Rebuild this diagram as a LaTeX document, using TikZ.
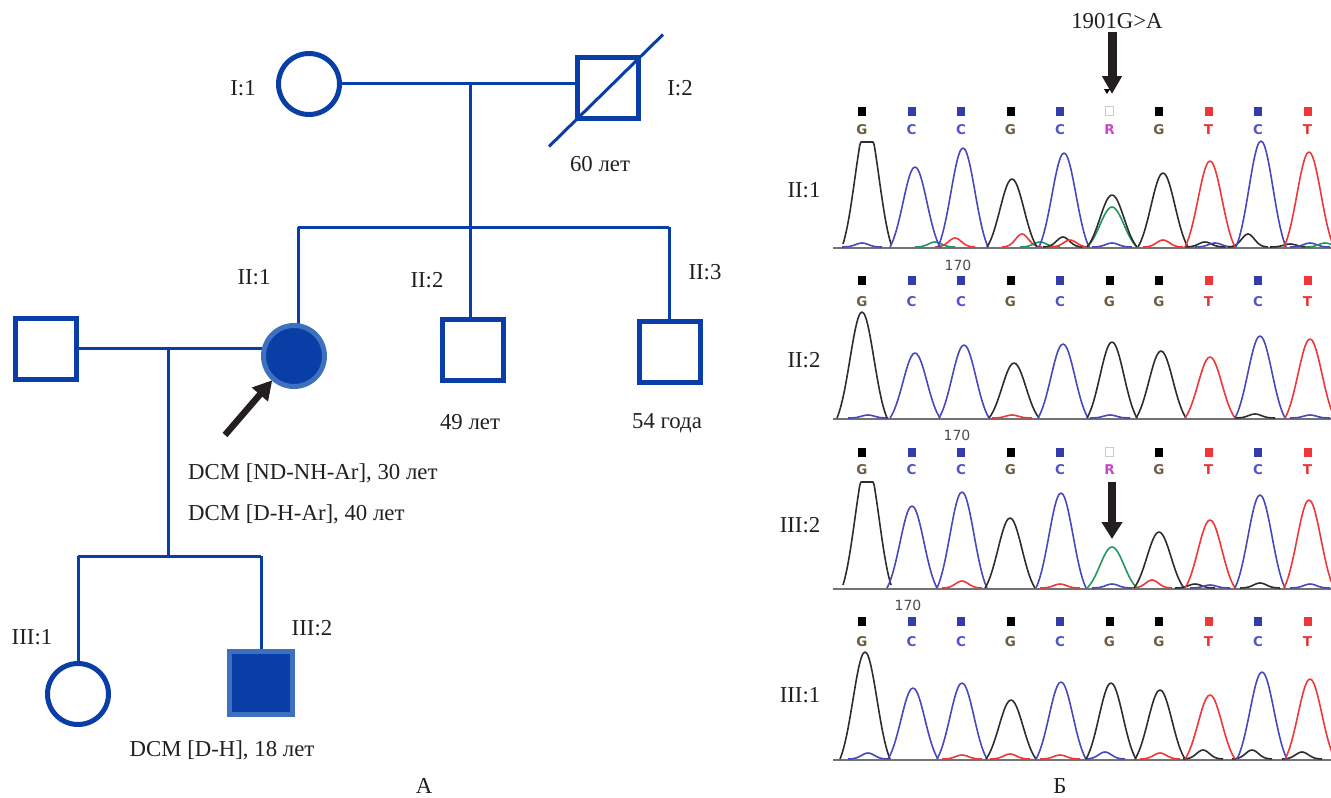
\documentclass[tikz,border=0pt]{standalone}
\usepackage{fontspec}
\setmainfont{Liberation Serif}
\newfontfamily\seqfont{DejaVu Sans}
\usetikzlibrary{arrows.meta,backgrounds}
\definecolor{pblue}{RGB}{8,62,165}
\definecolor{plight}{RGB}{62,112,192}
\definecolor{txt}{RGB}{35,31,32}
\definecolor{trK}{RGB}{45,45,45}
\definecolor{trB}{RGB}{72,72,190}
\definecolor{trR}{RGB}{240,55,55}
\definecolor{trG}{RGB}{35,150,95}
\definecolor{lG}{RGB}{110,92,66}
\definecolor{lC}{RGB}{85,85,200}
\definecolor{lR}{RGB}{200,70,200}
\definecolor{lT}{RGB}{235,50,50}
\definecolor{mB}{RGB}{50,60,170}
\begin{document}
\begin{tikzpicture}[x=1pt,y=-1pt,
  lbl/.style={font=\fontsize{22.8}{27}\selectfont, text=txt, inner sep=0pt},
  sym/.style={draw=pblue, line width=5pt, fill=white, inner sep=0pt, outer sep=0pt},
  male/.style={sym, rectangle, minimum size=61pt},
  female/.style={sym, circle, minimum size=61pt},
  affected/.style={fill=pblue, draw=plight},
  conn/.style={draw=pblue, line width=3pt},
  tr/.style={line width=1.6pt, line join=round},
  bigarrow/.style={draw=txt, line width=9pt, -{Triangle[width=19pt,length=18pt]}},
  seq/.style={font=\seqfont\bfseries\fontsize{13.5}{16}\selectfont, inner sep=0pt},
  mk/.style={minimum width=8pt, minimum height=9pt, inner sep=0pt},
  mkG/.style={mk, fill=black},
  mkC/.style={mk, fill=mB},
  mkT/.style={mk, fill=trR},
  mkR/.style={mk, fill=white, draw=black!20, line width=0.8pt},
  ltG/.style={seq, text=lG},
  ltC/.style={seq, text=lC},
  ltR/.style={seq, text=lR},
  ltT/.style={seq, text=lT},
  num/.style={font=\seqfont\fontsize{14}{16}\selectfont, text=black!70, inner sep=0pt}
]
\useasboundingbox (0,0) rectangle (1331,798);

% ---------------- Pedigree ----------------
\node[female] (I1) at (309,84) {};
\node[male] (I2) at (607.5,87.5) {};
\node[male] (S) at (45.5,349) {};
\node[female, affected] (II1) at (294,356) {};
\node[male] (II2) at (473,350) {};
\node[male] (II3) at (670,352) {};
\node[female] (III1) at (78,694) {};
\node[male, affected, minimum size=63pt] (III2) at (261,682.5) {};

\coordinate (m1) at (470,83);
\coordinate (s1) at (470,227);
\coordinate (s1L) at (298,227);
\coordinate (s1R) at (669,227);
\coordinate (m2) at (168,348);
\coordinate (s3) at (168,556);
\coordinate (s3L) at (78,556);
\coordinate (s3R) at (261,556);

\begin{scope}[on background layer]
  \draw[conn] (I1.east|-m1) -- (I2.west|-m1);
  \draw[conn] (m1) -- (s1);
  \draw[conn] (s1L) -- (s1R);
  \draw[conn] (s1L) -- (s1L|-II1.center);
  \draw[conn] (s1) -- (s1|-II2.center);
  \draw[conn] (s1R) -- (s1R|-II3.center);
  \draw[conn] (S.east|-m2) -- (II1.west|-m2);
  \draw[conn] (m2) -- (s3);
  \draw[conn] (s3L) -- (s3R);
  \draw[conn] (s3L) -- (III1.center);
  \draw[conn] (s3R) -- (III2.center);
\end{scope}
% deceased slash
\draw[conn] ([shift={(-58.5,59)}]I2.center) -- ([shift={(55.5,-53)}]I2.center);

% proband arrow
\coordinate (pa) at (225,435);
\draw[draw=txt, line width=6.5pt, -{Triangle[width=20pt,length=19pt]}, shorten >=2pt] (pa) -- (II1.-132);

% labels
\node[lbl] (tI1) at (243,88) {I:1};
\node[lbl] (tI2) at (680,88) {I:2};
\node[lbl] (aI2) at (600,164) {60 лет};
\node[lbl] (tII1) at (254,277) {II:1};
\node[lbl] (tII2) at (427,280) {II:2};
\node[lbl] (tII3) at (705,272) {II:3};
\node[lbl] (aII2) at (470,422) {49 лет};
\node[lbl] (aII3) at (667,423) {54 года};
\node[lbl, anchor=west] (d1) at (188,473) {DCM [ND-NH-Ar], 30 лет};
\node[lbl, anchor=west] (d2) at (188,514) {DCM [D-H-Ar], 40 лет};
\node[lbl] (tIII1) at (32,637) {III:1};
\node[lbl] (tIII2) at (312,628) {III:2};
\node[lbl] (d3) at (222,750) {DCM [D-H], 18 лет};
\node[lbl] (capA) at (424,786) {А};

% ---------------- Chromatograms ----------------
\node[lbl] (mut) at (1117,21) {1901G>A};
\coordinate (ta) at (1112,32);
\coordinate (tb) at (1112,94);
\draw[bigarrow] (ta) -- (tb);
\fill[black] (1104,89) -- (1110,89) -- (1107,94) -- cycle;

\node[lbl] (r1) at (804,190) {II:1};
\node[lbl] (r2) at (804,360) {II:2};
\node[lbl] (r3) at (800,525) {III:2};
\node[lbl] (r4) at (800,695) {III:1};
\node[lbl] (capB) at (1060,786) {Б};

% baselines
\foreach \b/\n in {248/1,419/2,589/3,760/4}{
  \draw[black!55, line width=2pt] (833,\b) -- (1331,\b);
}

% markers and letters
\foreach \yy/\yl/\p in {111/130/1,280/302/2,452/470/3,621/642/4}{
  \ifnum\p=1 \def\seqlist{G,C,C,G,C,R,G,T,C,T}\fi
  \ifnum\p=2 \def\seqlist{G,C,C,G,C,G,G,T,C,T}\fi
  \ifnum\p=3 \def\seqlist{G,C,C,G,C,R,G,T,C,T}\fi
  \ifnum\p=4 \def\seqlist{G,C,C,G,C,G,G,T,C,T}\fi
  \foreach \bs [count=\i from 0] in \seqlist {
    \node[mk\bs] (mk\p-\i) at ({862+49.5*\i},\yy) {};
    \node[lt\bs] (lt\p-\i) at ({862+49.5*\i},\yl) {\bs};
  }
}
\node[num] (n2) at (958,265) {170};
\node[num] (n3) at (957,435) {170};
\node[num] (n4) at (908,605) {170};

\begin{scope}
\clip (833,95) rectangle (1331,770);
% panel 1, base 247
\foreach \c/\h/\col in {862/4/trB,935/5/trG,955/9/trR,1022/13/trR,1040/5/trG,1063/10/trK,1070/7/trR,1112/4/trB,1163/7/trR,1205/5/trK,1215/4/trB,1248/13/trK,1290/3/trK,1310/4/trB,1325/4/trG}{
  \draw[\col, tr] plot[domain=\c-20:\c+20, samples=21, smooth] (\x,{247-\h*exp(-((\x-\c)/9)^2)});
}
\draw[trK, tr] plot[domain=843:891, samples=41, smooth] (\x,{247-min(105,125*(exp(-((\x-867)/17)^2)-0.115)/0.885)});
\foreach \c/\h/\col in {915/80/trB,963/99/trB,1012/68/trK,1064/94/trB,1112/40/trG,1112/52/trK,1163/74/trK,1210/86/trR,1261/106/trB,1309/95/trR}{
  \draw[\col, tr] plot[domain=\c-25:\c+25, samples=27, smooth] (\x,{247-\h*(exp(-((\x-\c)/17)^2)-0.115)/0.885});
}
% panel 2, base 418
\foreach \c/\h/\col in {868/3/trB,1012/3/trR,1110/3/trB,1255/4/trK,1310/3/trB}{
  \draw[\col, tr] plot[domain=\c-20:\c+20, samples=21, smooth] (\x,{418-\h*exp(-((\x-\c)/9)^2)});
}
\foreach \c/\h/\col in {862/106/trK,915/65/trB,964/73/trB,1014/55/trK,1063/74/trB,1112/76/trK,1161/67/trK,1210/61/trR,1260/82/trB,1310/79/trR}{
  \draw[\col, tr] plot[domain=\c-25:\c+25, samples=27, smooth] (\x,{418-\h*(exp(-((\x-\c)/17)^2)-0.115)/0.885});
}
% panel 3, base 588
\foreach \c/\h/\col in {962/7/trR,1060/4/trR,1112/4/trB,1152/8/trR,1195/4/trK,1210/3/trB,1260/5/trK,1310/4/trB}{
  \draw[\col, tr] plot[domain=\c-20:\c+20, samples=21, smooth] (\x,{588-\h*exp(-((\x-\c)/9)^2)});
}
\draw[trK, tr] plot[domain=843:891, samples=41, smooth] (\x,{588-min(106,126*(exp(-((\x-867)/17)^2)-0.115)/0.885)});
\foreach \c/\h/\col in {912/82/trB,962/96/trB,1010/70/trK,1061/95/trB,1112/41/trG,1159/56/trK,1210/68/trR,1260/93/trB,1309/88/trR}{
  \draw[\col, tr] plot[domain=\c-25:\c+25, samples=27, smooth] (\x,{588-\h*(exp(-((\x-\c)/17)^2)-0.115)/0.885});
}
% panel 4, base 759
\foreach \c/\h/\col in {868/6/trB,962/4/trR,1010/5/trR,1060/4/trR,1105/7/trB,1160/6/trR,1203/9/trK,1252/9/trK,1302/7/trK}{
  \draw[\col, tr] plot[domain=\c-20:\c+20, samples=21, smooth] (\x,{759-\h*exp(-((\x-\c)/9)^2)});
}
\foreach \c/\h/\col in {865/107/trK,913/71/trB,962/76/trB,1011/59/trK,1061/77/trB,1111/76/trK,1160/69/trK,1210/64/trR,1262/87/trB,1310/80/trR}{
  \draw[\col, tr] plot[domain=\c-25:\c+25, samples=27, smooth] (\x,{759-\h*(exp(-((\x-\c)/17)^2)-0.115)/0.885});
}
\end{scope}

% arrow in panel III:2
\coordinate (pb) at (1112,482);
\coordinate (pc) at (1112,539);
\draw[draw=txt, line width=8pt, -{Triangle[width=20pt,length=17pt]}] (pb) -- (pc);
\end{tikzpicture}
\end{document}
